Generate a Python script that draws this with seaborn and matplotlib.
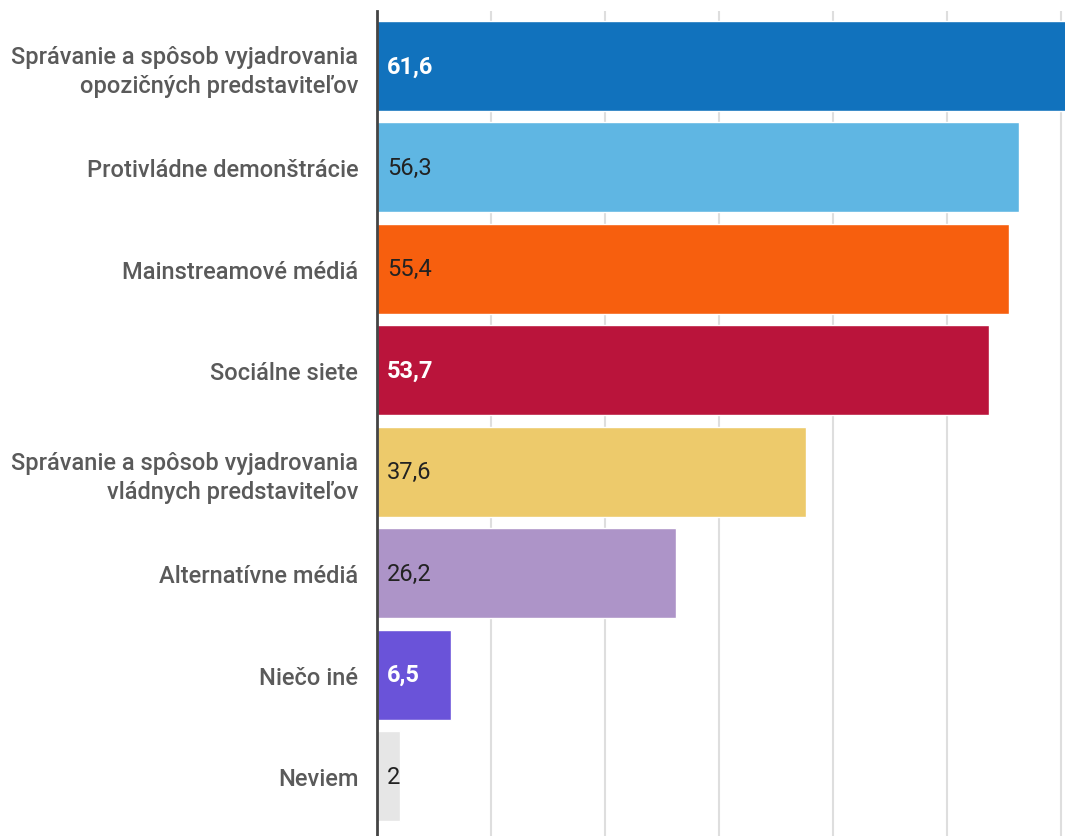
import matplotlib
matplotlib.use("Agg")
import matplotlib.pyplot as plt
import seaborn as sns
import pandas as pd

categories = [
    "Správanie a spôsob vyjadrovania\nopozičných predstaviteľov",
    "Protivládne demonštrácie",
    "Mainstreamové médiá",
    "Sociálne siete",
    "Správanie a spôsob vyjadrovania\nvládnych predstaviteľov",
    "Alternatívne médiá",
    "Niečo iné",
    "Neviem",
]
values = [61.6, 56.3, 55.4, 53.7, 37.6, 26.2, 6.5, 2]
value_labels = ["61,6", "56,3", "55,4", "53,7", "37,6", "26,2", "6,5", "2"]
colors = ["#1172bd", "#5fb6e3", "#f75f0e", "#ba143b", "#edca6b",
          "#ad94c8", "#6a53d9", "#e6e6e6"]
label_colors = ["white", "#222222", "#222222", "white", "#222222",
                "#222222", "white", "#222222"]

df = pd.DataFrame({"cat": categories, "val": values})

sns.set_style("white")
plt.rcParams["font.family"] = ["Roboto", "DejaVu Sans"]

fig = plt.figure(figsize=(10.65, 8.37), dpi=100)
ax = fig.add_axes([377 / 1065, 0, 688 / 1065, 825 / 837])

sns.barplot(data=df, x="val", y="cat", hue="cat", palette=colors,
            saturation=1, legend=False, orient="h", width=0.887, ax=ax, zorder=3)

ax.set_xlim(0, 60.35)
ax.set_ylim(7.59, -0.542)
ax.set_xticks([10, 20, 30, 40, 50, 60])
ax.xaxis.grid(True, color="#dedede", linewidth=1.5, zorder=0)
ax.set_axisbelow(True)
ax.tick_params(axis="x", bottom=False, labelbottom=False)
ax.tick_params(axis="y", left=False, labelsize=17, labelcolor="#5a5a5a", pad=10)
for lab in ax.get_yticklabels():
    lab.set_horizontalalignment("right")
    lab.set_multialignment("right")
    lab.set_linespacing(1.32)
    lab.set_fontweight("medium")
ax.set_xlabel("")
ax.set_ylabel("")

for s in ["top", "right", "bottom"]:
    ax.spines[s].set_visible(False)
ax.spines["left"].set_color("#444444")
ax.spines["left"].set_linewidth(2)
ax.spines["left"].set_zorder(5)

for i, (lbl, c) in enumerate(zip(value_labels, label_colors)):
    weight = "bold" if c == "white" else "normal"
    ax.annotate(lbl, xy=(0, i), xytext=(7, 0), textcoords="offset points",
                va="center", ha="left", fontsize=17, color=c,
                fontweight=weight, zorder=6)

fig.savefig("out.png", dpi=100)
